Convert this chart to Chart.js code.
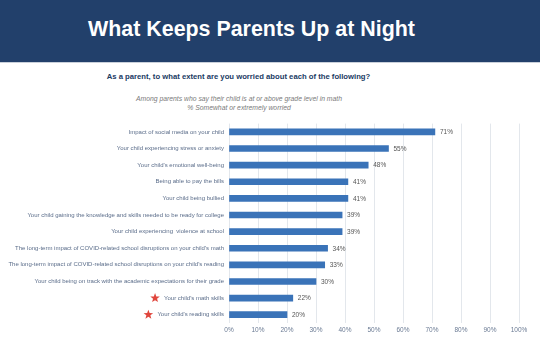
<!DOCTYPE html>
<html>
<head>
<meta charset="utf-8">
<script src="https://cdn.jsdelivr.net/npm/chart.js@4.4.0/dist/chart.umd.min.js"></script>
<style>
  body { margin:0; width:540px; height:347px; background:#fff; position:relative; overflow:hidden; font-family:"Liberation Sans", Arial, sans-serif; }
  #hdr { position:absolute; left:0; top:0; width:540px; height:62px; background:#22406b; border-bottom:1px solid #c9d0da; }
  #hdr h1 { margin:0; position:absolute; left:0; width:503px; top:17px; text-align:center; color:#fff; font-size:21.4px; font-weight:bold; }
  #q { position:absolute; left:0; width:477px; top:72px; text-align:center; color:#203a63; font-size:7.7px; font-weight:bold; }
  #sub { position:absolute; left:0; width:478px; top:94px; text-align:center; color:#7a7a7a; font-size:6.8px; font-style:italic; line-height:9px; }
  #myChart { position:absolute; left:0; top:115px; }
</style>
</head>
<body>
<div id="hdr"><h1>What Keeps Parents Up at Night</h1></div>
<div id="q">As a parent, to what extent are you worried about each of the following?</div>
<div id="sub">Among parents who say their child is at or above grade level in math<br>% Somewhat or extremely worried</div>
<canvas id="myChart" width="540" height="232"></canvas>
<script>
const worries = [
  "Impact of social media on your child",
  "Your child experiencing stress or anxiety",
  "Your child's emotional well-being",
  "Being able to pay the bills",
  "Your child being bullied",
  "Your child gaining the knowledge and skills needed to be ready for college",
  "Your child experiencing  violence at school",
  "The long-term impact of COVID-related school disruptions on your child's math",
  "The long-term impact of COVID-related school disruptions on your child's reading",
  "Your child being on track with the academic expectations for their grade",
  "Your child's math skills",
  "Your child's reading skills"
];
const worriedPct = [71, 55, 48, 41, 41, 39, 39, 34, 33, 30, 22, 20];
const starred = ["Your child's math skills", "Your child's reading skills"];

const tickFont = '6px "Liberation Sans", Arial, sans-serif';

// value labels + red stars
const extras = {
  id: 'extras',
  afterDatasetsDraw(chart) {
    const ctx = chart.ctx;
    const meta = chart.getDatasetMeta(0);
    ctx.save();
    ctx.font = '6.5px "Liberation Sans", Arial, sans-serif';
    ctx.fillStyle = '#555';
    ctx.textBaseline = 'middle';
    meta.data.forEach((bar, i) => {
      ctx.fillText(worriedPct[i] + '%', bar.x + 5, bar.y + 0.5);
    });
    // stars
    const ys = chart.scales.y;
    ctx.font = tickFont;
    worries.forEach((w, i) => {
      if (!starred.includes(w)) return;
      const wdt = ctx.measureText(w).width;
      const cx = ys.right - 5 - wdt - 9;
      const cy = ys.getPixelForValue(i);
      ctx.beginPath();
      for (let k = 0; k < 10; k++) {
        const r = k % 2 === 0 ? 5 : 2.1;
        const a = -Math.PI / 2 + k * Math.PI / 5;
        ctx.lineTo(cx + r * Math.cos(a), cy + r * Math.sin(a));
      }
      ctx.closePath();
      ctx.fillStyle = '#e0463d';
      ctx.fill();
    });
    ctx.restore();
  }
};

const ctx = document.getElementById('myChart').getContext('2d');
const myChart = new Chart(ctx, {
  type: 'bar',
  data: {
    labels: worries,
    datasets: [{
      data: worriedPct,
      backgroundColor: '#3a73b8',
      barThickness: 6
    }]
  },
  options: {
    indexAxis: 'y',
    responsive: false,
    animation: false,
    layout: { padding: { top: 7, right: 21, left: 0, bottom: 0 } },
    plugins: { legend: { display: false }, tooltip: { enabled: false } },
    scales: {
      x: {
        min: 0, max: 100,
        afterFit: (s) => { s.height = 24; },
        ticks: { stepSize: 10, padding: 3, color: '#6a7a93', font: { size: 6.5, family: '"Liberation Sans", Arial, sans-serif' }, callback: v => v + '%' },
        grid: { color: '#e3e7ec', drawTicks: false },
        border: { display: false }
      },
      y: {
        afterFit: (s) => { s.width = 229; },
        ticks: { padding: 5, color: '#5b6d8a', font: { size: 6, family: '"Liberation Sans", Arial, sans-serif' }, autoSkip: false },
        grid: { display: false, drawTicks: false },
        border: { display: false }
      }
    }
  },
  plugins: [extras]
});
</script>
</body>
</html>
